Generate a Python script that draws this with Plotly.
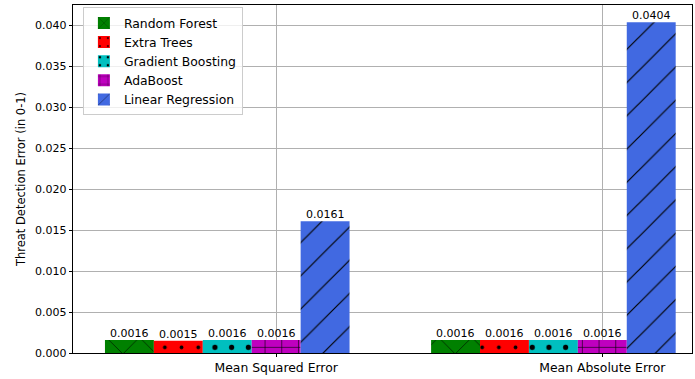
import plotly.graph_objects as go

# Error metrics per model
metrics = ["Mean Squared Error", "Mean Absolute Error"]
models = ["Random Forest", "Extra Trees", "Gradient Boosting", "AdaBoost", "Linear Regression"]
rf_vals = [0.0016, 0.0016]
et_vals = [0.0015, 0.0016]
gb_vals = [0.0016, 0.0016]
ada_vals = [0.0016, 0.0016]
lr_vals = [0.0161, 0.0404]

series = [rf_vals, et_vals, gb_vals, ada_vals, lr_vals]
colors = ["#008000", "#ff0000", "#00bfbf", "#bf00bf", "#4169e1"]
hatches = ["x", ".", ".", "+", "/"]
hatch_size = [23.5, 16.7, 16.7, 16.7, 23.5]
hatch_solidity = [0.05, 0.04, 0.075, 0.07, 0.05]

bar_w = 0.15
group_pos = list(range(len(metrics)))
FONT = "DejaVu Sans"

fig = go.Figure()
for i, (name, vals) in enumerate(zip(models, series)):
    off = (i - 3.5) * bar_w
    fig.add_trace(go.Bar(
        x=group_pos,
        y=vals,
        name=name,
        width=bar_w,
        offset=off,
        marker=dict(
            color=colors[i],
            line=dict(width=0),
            pattern=dict(shape=hatches[i], fgcolor="black", fgopacity=1,
                         size=hatch_size[i], solidity=hatch_solidity[i]),
        ),
    ))
    # value labels above each bar
    for g, v in zip(group_pos, vals):
        fig.add_annotation(
            x=g + off + bar_w / 2, y=v, xref="x", yref="y",
            text=f"{v:.4f}", showarrow=False,
            xanchor="center", yanchor="bottom", yshift=-2,
            font=dict(family=FONT, size=11, color="black"),
        )

axis_common = dict(
    showline=True, linecolor="black", linewidth=0.8, mirror=True,
    ticks="outside", ticklen=3.5, tickwidth=0.8, tickcolor="black",
    showgrid=True, gridcolor="#b0b0b0", gridwidth=0.8,
    zeroline=False, layer="above traces",
)

fig.update_layout(
    width=695, height=379,
    margin=dict(l=73, r=3, t=5, b=25.5),
    paper_bgcolor="white", plot_bgcolor="white",
    barmode="overlay",
    font=dict(family=FONT, color="black"),
    xaxis=dict(
        **axis_common,
        range=[-0.623, 1.275],
        tickvals=group_pos, ticktext=metrics,
        tickfont=dict(family=FONT, size=12.4),
    ),
    yaxis=dict(
        **axis_common,
        range=[0, 0.0425],
        dtick=0.005, tickformat=".3f",
        tickfont=dict(family=FONT, size=11),
        title=dict(text="Threat Detection Error (in 0-1)",
                   font=dict(family=FONT, size=11.5), standoff=6),
    ),
    legend=dict(
        x=0.016, y=0.993, xanchor="left", yanchor="top",
        bgcolor="rgba(255,255,255,0.8)", bordercolor="#cccccc", borderwidth=1,
        font=dict(family=FONT, size=12.4),
        traceorder="normal",
    ),
    showlegend=True,
)

fig.write_html("out.html")
